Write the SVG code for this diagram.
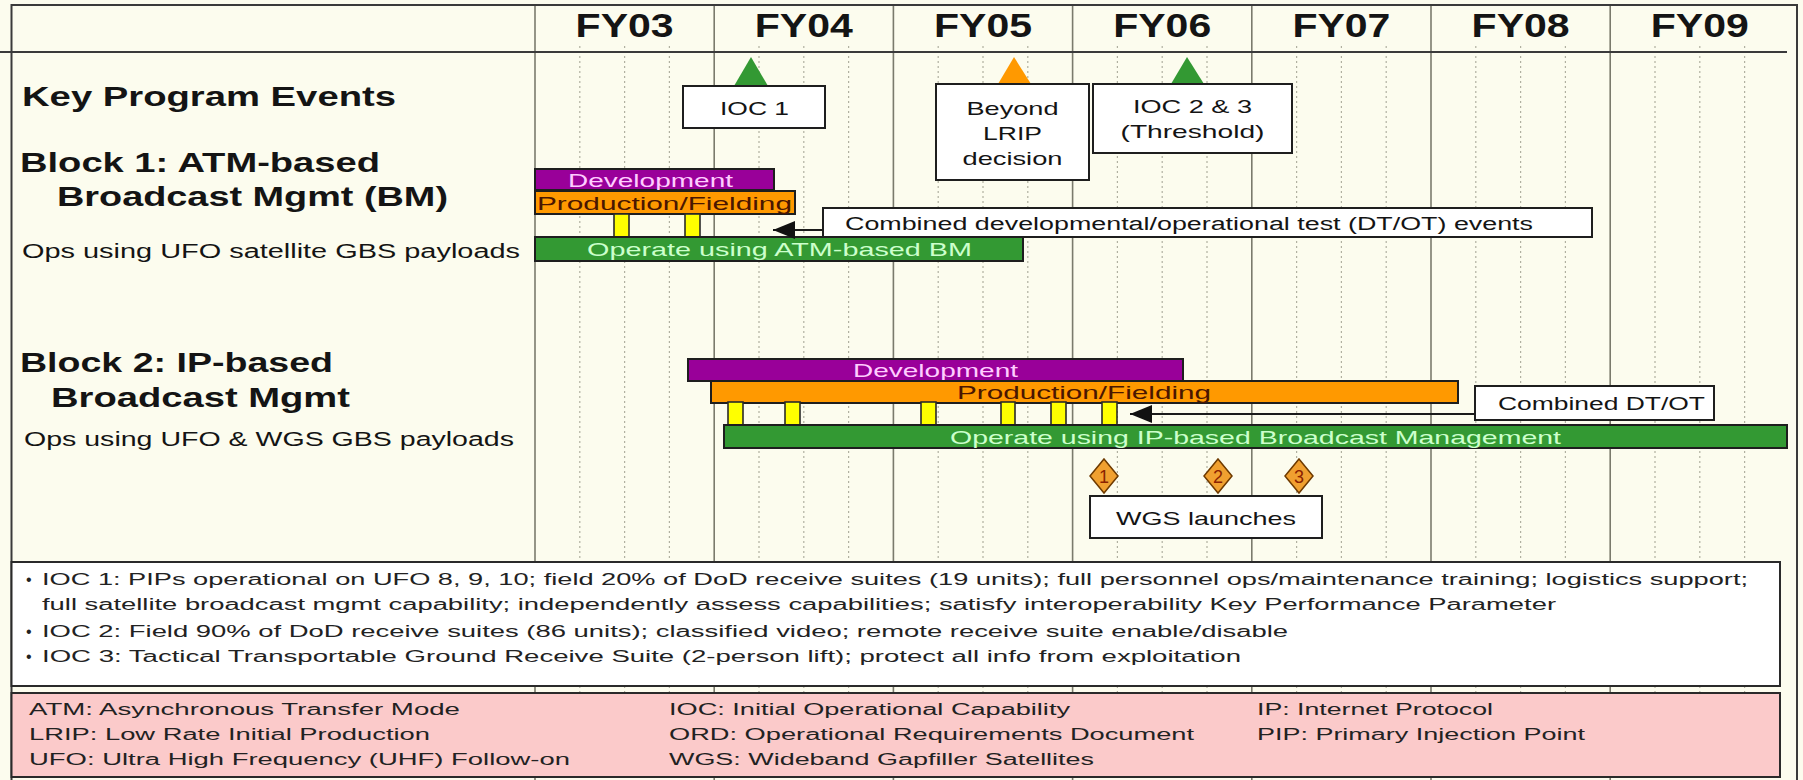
<svg xmlns="http://www.w3.org/2000/svg" width="1803" height="780" viewBox="0 0 1803 780">
<defs>
<style>
text{font-family:"Liberation Sans",Arial,sans-serif;fill:#141414}
.fy{font-size:33px;font-weight:bold}
.h{font-size:27px;font-weight:bold}
.ops{font-size:20px}
.bt{font-size:19px}
.bx{font-size:19px}
.nt{font-size:16px;fill:#222}
.frame{fill:none;stroke:#3a3a3a;stroke-width:2}
.yl{stroke:#7a7a6c;stroke-width:1.6}
.ql{stroke:#b0b0a0;stroke-width:1.2;stroke-dasharray:2 3}
.bar{stroke:#1e1e1e;stroke-width:2}
.pur{fill:#990099}
.org{fill:#ff9900}
.grn{fill:#339933}
.yel{fill:#ffff00;stroke:#2a2a2a;stroke-width:1.6}
.wbox{fill:#ffffff;stroke:#1e1e1e;stroke-width:2}
.dia{fill:#f0a030;stroke:#6e3a00;stroke-width:1.5}
.dn{font-size:18px;fill:#8b2200}
.conn{stroke:#1a1a1a;stroke-width:2;fill:none}
</style>
<marker id="ah" viewBox="0 0 22 18" refX="22" refY="9" markerWidth="22" markerHeight="18" markerUnits="userSpaceOnUse" orient="auto">
<path d="M0,0 L22,9 L0,18 z" fill="#111"/>
</marker>
</defs>

<rect x="0" y="0" width="1803" height="780" fill="#fcfcee"/>

<g id="grid">
<line class="ql" x1="579.8" y1="46" x2="579.8" y2="780"/><line class="ql" x1="624.6" y1="46" x2="624.6" y2="780"/><line class="ql" x1="669.4" y1="46" x2="669.4" y2="780"/>
<line class="ql" x1="759" y1="46" x2="759" y2="780"/><line class="ql" x1="803.8" y1="46" x2="803.8" y2="780"/><line class="ql" x1="848.6" y1="46" x2="848.6" y2="780"/>
<line class="ql" x1="938.2" y1="46" x2="938.2" y2="780"/><line class="ql" x1="983" y1="46" x2="983" y2="780"/><line class="ql" x1="1027.8" y1="46" x2="1027.8" y2="780"/>
<line class="ql" x1="1117.4" y1="46" x2="1117.4" y2="780"/><line class="ql" x1="1162.2" y1="46" x2="1162.2" y2="780"/><line class="ql" x1="1207" y1="46" x2="1207" y2="780"/>
<line class="ql" x1="1296.6" y1="46" x2="1296.6" y2="780"/><line class="ql" x1="1341.4" y1="46" x2="1341.4" y2="780"/><line class="ql" x1="1386.2" y1="46" x2="1386.2" y2="780"/>
<line class="ql" x1="1475.8" y1="46" x2="1475.8" y2="780"/><line class="ql" x1="1520.6" y1="46" x2="1520.6" y2="780"/><line class="ql" x1="1565.4" y1="46" x2="1565.4" y2="780"/>
<line class="ql" x1="1655" y1="46" x2="1655" y2="780"/><line class="ql" x1="1699.8" y1="46" x2="1699.8" y2="780"/><line class="ql" x1="1744.6" y1="46" x2="1744.6" y2="780"/>
<line class="yl" x1="535" y1="5" x2="535" y2="780"/>
<line class="yl" x1="714.2" y1="5" x2="714.2" y2="780"/>
<line class="yl" x1="893.4" y1="5" x2="893.4" y2="780"/>
<line class="yl" x1="1072.6" y1="5" x2="1072.6" y2="780"/>
<line class="yl" x1="1251.8" y1="5" x2="1251.8" y2="780"/>
<line class="yl" x1="1431" y1="5" x2="1431" y2="780"/>
<line class="yl" x1="1610.2" y1="5" x2="1610.2" y2="780"/>
<path class="frame" d="M11.5,780 V5 H1797 V780"/>
<line class="frame" x1="0" y1="52" x2="1787" y2="52"/>
</g>

<g id="header">
<text class="fy" x="624.6" y="37" text-anchor="middle" textLength="98" lengthAdjust="spacingAndGlyphs">FY03</text>
<text class="fy" x="803.8" y="37" text-anchor="middle" textLength="98" lengthAdjust="spacingAndGlyphs">FY04</text>
<text class="fy" x="983" y="37" text-anchor="middle" textLength="98" lengthAdjust="spacingAndGlyphs">FY05</text>
<text class="fy" x="1162.2" y="37" text-anchor="middle" textLength="98" lengthAdjust="spacingAndGlyphs">FY06</text>
<text class="fy" x="1341.4" y="37" text-anchor="middle" textLength="98" lengthAdjust="spacingAndGlyphs">FY07</text>
<text class="fy" x="1520.6" y="37" text-anchor="middle" textLength="98" lengthAdjust="spacingAndGlyphs">FY08</text>
<text class="fy" x="1699.8" y="37" text-anchor="middle" textLength="98" lengthAdjust="spacingAndGlyphs">FY09</text>
</g>

<g id="labels">
<text class="h" x="22" y="106" textLength="374" lengthAdjust="spacingAndGlyphs">Key Program Events</text>
<text class="h" x="20" y="172" textLength="360" lengthAdjust="spacingAndGlyphs">Block 1: ATM-based</text>
<text class="h" x="57" y="206" textLength="391" lengthAdjust="spacingAndGlyphs">Broadcast Mgmt (BM)</text>
<text class="ops" x="22" y="258" textLength="498" lengthAdjust="spacingAndGlyphs">Ops using UFO satellite GBS payloads</text>
<text class="h" x="20" y="372" textLength="313" lengthAdjust="spacingAndGlyphs">Block 2: IP-based</text>
<text class="h" x="51" y="407" textLength="299" lengthAdjust="spacingAndGlyphs">Broadcast Mgmt</text>
<text class="ops" x="24" y="446" textLength="490" lengthAdjust="spacingAndGlyphs">Ops using UFO &amp; WGS GBS payloads</text>
</g>

<g id="event-ioc1">
<polygon points="751,57 734,86 768,86" fill="#339933"/>
<rect class="wbox" x="683" y="86" width="142" height="42"/>
<text class="bx" x="754.5" y="115" text-anchor="middle" textLength="69" lengthAdjust="spacingAndGlyphs">IOC 1</text>
</g>
<g id="event-lrip">
<polygon points="1014,57 998,84 1031,84" fill="#ff9900"/>
<rect class="wbox" x="936" y="84" width="153" height="96"/>
<text class="bx" x="1012.5" y="115" text-anchor="middle" textLength="92" lengthAdjust="spacingAndGlyphs">Beyond</text>
<text class="bx" x="1012.5" y="140" text-anchor="middle" textLength="59" lengthAdjust="spacingAndGlyphs">LRIP</text>
<text class="bx" x="1012.5" y="165" text-anchor="middle" textLength="100" lengthAdjust="spacingAndGlyphs">decision</text>
</g>
<g id="event-ioc23">
<polygon points="1187,57 1171,84 1204,84" fill="#339933"/>
<rect class="wbox" x="1093" y="84" width="199" height="69"/>
<text class="bx" x="1192.5" y="113" text-anchor="middle" textLength="119" lengthAdjust="spacingAndGlyphs">IOC 2 &amp; 3</text>
<text class="bx" x="1192.5" y="138" text-anchor="middle" textLength="144" lengthAdjust="spacingAndGlyphs">(Threshold)</text>
</g>

<g id="b1-development">
<rect class="bar pur" x="535" y="169" width="239" height="21"/>
<text class="bt" x="568" y="187" textLength="165" lengthAdjust="spacingAndGlyphs" style="fill:#ffccff">Development</text>
</g>
<g id="b1-production">
<rect class="bar org" x="535" y="191" width="260" height="23"/>
<text class="bt" x="537" y="210" textLength="255" lengthAdjust="spacingAndGlyphs" style="fill:#4a1600">Production/Fielding</text>
</g>
<g id="b1-tests">
<rect class="yel" x="614" y="214" width="15" height="23"/>
<rect class="yel" x="685" y="214" width="15" height="23"/>
</g>
<g id="b1-combined">
<rect class="wbox" x="823" y="208" width="769" height="29"/>
<text class="bt" x="845" y="230" textLength="688" lengthAdjust="spacingAndGlyphs" style="font-size:18px">Combined developmental/operational test (DT/OT) events</text>
</g>
<g id="b1-operate">
<rect class="bar grn" x="535" y="237" width="488" height="24"/>
<text class="bt" x="587" y="256" textLength="385" lengthAdjust="spacingAndGlyphs" style="fill:#ccffcc">Operate using ATM-based BM</text>
</g>

<g id="b2-development">
<rect class="bar pur" x="688" y="359" width="495" height="22"/>
<text class="bt" x="853" y="377" textLength="165" lengthAdjust="spacingAndGlyphs" style="fill:#ffccff">Development</text>
</g>
<g id="b2-production">
<rect class="bar org" x="711" y="381" width="747" height="22"/>
<text class="bt" x="957" y="399" textLength="254" lengthAdjust="spacingAndGlyphs" style="fill:#4a1600">Production/Fielding</text>
</g>
<g id="b2-tests">
<rect class="yel" x="728" y="402" width="15" height="23"/>
<rect class="yel" x="785" y="402" width="15" height="23"/>
<rect class="yel" x="921" y="402" width="15" height="23"/>
<rect class="yel" x="1001" y="402" width="14" height="23"/>
<rect class="yel" x="1051" y="402" width="15" height="23"/>
<rect class="yel" x="1102" y="402" width="15" height="23"/>
</g>
<g id="b2-combined">
<rect class="wbox" x="1475" y="386" width="239" height="34"/>
<text class="bt" x="1498" y="410" textLength="207" lengthAdjust="spacingAndGlyphs" style="font-size:18px">Combined DT/OT</text>
</g>
<g id="b2-operate">
<rect class="bar grn" x="724" y="425" width="1063" height="23"/>
<text class="bt" x="950" y="444" textLength="611" lengthAdjust="spacingAndGlyphs" style="fill:#ccffcc">Operate using IP-based Broadcast Management</text>
</g>

<g id="wgs-launches">
<polygon class="dia" points="1104,459 1118,476 1104,493 1090,476"/>
<text class="dn" x="1104" y="483" text-anchor="middle">1</text>
<polygon class="dia" points="1218,459 1232,476 1218,493 1204,476"/>
<text class="dn" x="1218" y="483" text-anchor="middle">2</text>
<polygon class="dia" points="1299,459 1313,476 1299,493 1285,476"/>
<text class="dn" x="1299" y="483" text-anchor="middle">3</text>
<rect class="wbox" x="1090" y="496" width="232" height="42"/>
<text class="bx" x="1206" y="525" text-anchor="middle" textLength="180" lengthAdjust="spacingAndGlyphs">WGS launches</text>
</g>

<g id="connectors">
<path class="conn" d="M823,230 L773,230" marker-end="url(#ah)"/>
<path class="conn" d="M1475,414 L1130,414" marker-end="url(#ah)"/>
</g>

<g id="ioc-notes">
<rect x="11.5" y="562" width="1768.5" height="124" fill="#ffffff" stroke="#2a2a2a" stroke-width="2"/>
<text class="nt" x="26" y="585">•</text>
<text class="nt" x="42" y="585" textLength="1706" lengthAdjust="spacingAndGlyphs">IOC 1: PIPs operational on UFO 8, 9, 10; field 20% of DoD receive suites (19 units); full personnel ops/maintenance training; logistics support;</text>
<text class="nt" x="42" y="610" textLength="1514" lengthAdjust="spacingAndGlyphs">full satellite broadcast mgmt capability; independently assess capabilities; satisfy interoperability Key Performance Parameter</text>
<text class="nt" x="26" y="637">•</text>
<text class="nt" x="42" y="637" textLength="1246" lengthAdjust="spacingAndGlyphs">IOC 2: Field 90% of DoD receive suites (86 units); classified video; remote receive suite enable/disable</text>
<text class="nt" x="26" y="662">•</text>
<text class="nt" x="42" y="662" textLength="1199" lengthAdjust="spacingAndGlyphs">IOC 3: Tactical Transportable Ground Receive Suite (2-person lift); protect all info from exploitation</text>
</g>

<g id="acronyms">
<rect x="11.5" y="693" width="1768.5" height="84" fill="#fbcaca" stroke="#2a2a2a" stroke-width="2"/>
<text class="nt" x="29" y="715" textLength="431" lengthAdjust="spacingAndGlyphs">ATM: Asynchronous Transfer Mode</text>
<text class="nt" x="29" y="740" textLength="401" lengthAdjust="spacingAndGlyphs">LRIP: Low Rate Initial Production</text>
<text class="nt" x="29" y="765" textLength="541" lengthAdjust="spacingAndGlyphs">UFO: Ultra High Frequency (UHF) Follow-on</text>
<text class="nt" x="669" y="715" textLength="401" lengthAdjust="spacingAndGlyphs">IOC: Initial Operational Capability</text>
<text class="nt" x="669" y="740" textLength="525" lengthAdjust="spacingAndGlyphs">ORD: Operational Requirements Document</text>
<text class="nt" x="669" y="765" textLength="425" lengthAdjust="spacingAndGlyphs">WGS: Wideband Gapfiller Satellites</text>
<text class="nt" x="1257" y="715" textLength="236" lengthAdjust="spacingAndGlyphs">IP: Internet Protocol</text>
<text class="nt" x="1257" y="740" textLength="328" lengthAdjust="spacingAndGlyphs">PIP: Primary Injection Point</text>
</g>
</svg>
